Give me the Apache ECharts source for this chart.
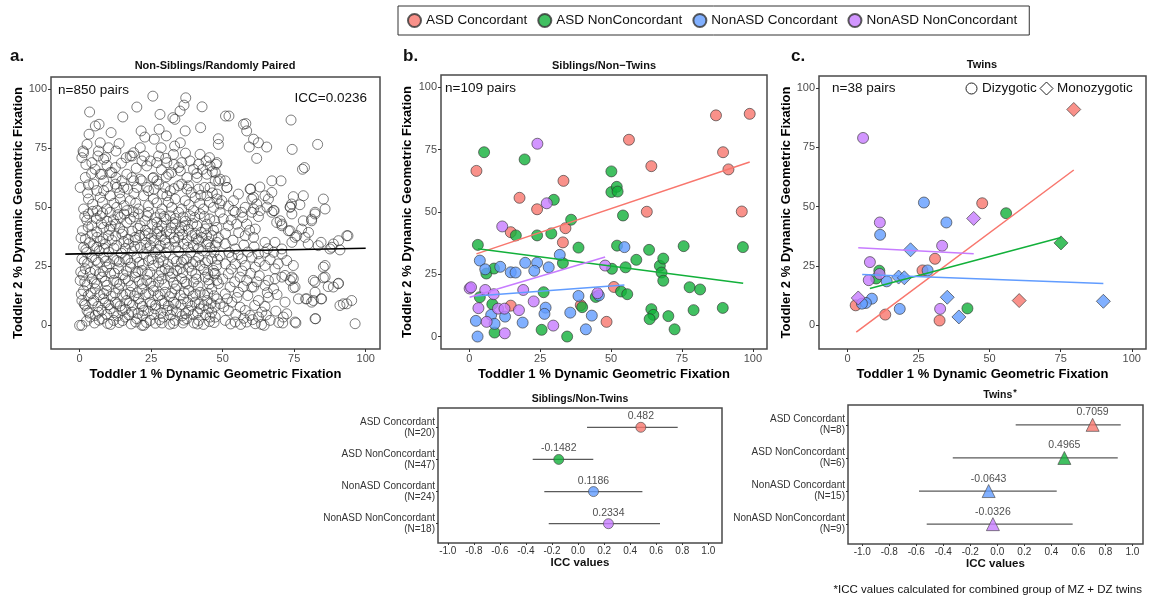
<!DOCTYPE html>
<html>
<head>
<meta charset="utf-8">
<script src="https://cdn.jsdelivr.net/npm/echarts@6/dist/echarts.min.js"></script>
<style>
html, body { margin: 0; padding: 0; background: #fff; }
#chart { width: 1155px; height: 597px; }
</style>
</head>
<body>
<div id="chart"></div>
<script>
var FONT = 'Liberation Sans, Arial, Helvetica, sans-serif';

// ---- shared ----
var groups = ['ASD Concordant', 'ASD NonConcordant', 'NonASD Concordant', 'NonASD NonConcordant'];
var groupColors = ['#F8766D', '#12B03A', '#619CFF', '#C77CFF'];
var pctTicks = [0, 25, 50, 75, 100];
var iccTicks = [-1, -0.8, -0.6, -0.4, -0.2, 0, 0.2, 0.4, 0.6, 0.8, 1];

// ---- a. non-siblings / randomly paired ----
var randPairs = [
  [25.6,96.9],[37.1,96.2],[36.5,93.1],[35.1,90.6],[33.3,87.1],[32.6,87.8],[20.0,92.3],[42.8,92.4],[3.5,90.2],[15.1,88.1],[51.0,88.5],[52.2,88.5],[73.9,86.8],[58.1,85.3],[57.3,85.0],[28.1,89.2],[5.5,84.3],[6.8,85.0],[3.3,80.8],[11.0,81.5],[21.5,82.2],[22.8,79.6],[26.1,78.7],[27.8,82.9],[30.3,80.1],[33.2,75.8],[35.2,77.2],[36.9,82.2],[42.3,83.6],[48.5,78.9],[48.5,76.5],[58.4,82.2],[60.8,78.7],[62.5,77.2],[65.4,75.4],[59.3,75.4],[61.9,70.6],[74.3,74.4],[83.2,76.5],[77.9,66.0],[78.6,66.7],[67.2,61.1],
  [0.8,70.9],[1.2,73.7],[2.6,76.5],[7.2,77.2],[6.6,73.7],[6.4,71.6],[9.1,70.9],[10.1,75.1],[12.7,73.7],[13.8,76.8],[16.3,70.9],[17.7,71.6],[18.9,73.0],[21.2,75.1],[22.6,71.6],[23.5,67.4],[24.7,69.5],[27.6,71.6],[30.1,70.6],[28.5,75.1],[32.8,72.3],[35.7,68.8],[42.1,72.3],[44.2,69.5],[45.4,70.9],[47.7,68.1],[39.8,66.0],[41.0,64.2],[46.4,65.0],[32.2,64.6],[30.3,62.8],[27.0,61.1],[25.6,62.2],[16.5,63.9],[12.7,62.5],[10.7,64.6],[7.2,63.9],[4.2,64.2],[8.4,61.1],[0.2,58.3],[3.1,59.4],[13.0,58.3],[16.8,57.6],[18.9,61.1],[21.2,61.8],[23.5,58.3],[29.9,58.3],[35.7,59.7],[37.5,57.6],[43.7,58.3],[51.5,58.3],[47.4,61.1],[49.1,61.8],[59.8,57.6],[60.8,54.1],[61.9,51.3],[60.8,49.2],[67.2,56.2],[70.4,61.1],[85.2,53.4],[85.8,49.2],[82.3,47.8],[81.1,44.2],[77.6,40.7],[80.0,39.3],[73.6,49.9],[74.7,54.4],[70.1,44.2],[70.7,42.1],[73.0,40.0],[64.8,54.8],[67.8,48.5],
  [1.4,73.0],[4.3,68.8],[8.4,70.2],[12.5,66.7],[18.3,71.6],[21.8,69.5],[27.0,68.8],[30.5,68.8],[34.6,66.7],[38.6,69.5],[41.6,68.1],[45.6,67.4],
  [2.0,62.5],[7.8,63.9],[11.3,64.6],[14.8,61.1],[18.3,62.5],[21.8,61.1],[25.8,62.5],[31.1,63.9],[35.2,65.3],[37.5,62.5],[41.0,62.5],[44.5,63.9],[47.4,64.6],
  [4.9,59.7],[8.4,56.9],[12.5,59.7],[15.4,58.3],[20.0,58.3],[24.1,56.9],[27.6,59.7],[31.7,56.9],[34.6,59.0],[38.1,59.0],[41.6,57.6],[45.6,58.3],
  [3.1,53.4],[7.2,54.1],[10.7,54.8],[14.2,53.4],[17.7,52.7],[22.4,54.8],[25.8,53.4],[30.5,54.8],[33.4,53.4],[36.9,52.7],[40.4,54.1],[44.5,54.8],[48.0,53.4],
  [1.4,49.2],[6.1,48.5],[9.5,49.2],[13.0,49.9],[16.5,48.5],[20.6,49.2],[24.1,50.6],[28.8,49.2],[32.2,49.9],[35.7,49.2],[39.8,48.5],[43.3,49.2],[46.8,49.9],
  [49.7,52.7],[49.1,51.3],[53.8,48.5],[56.7,47.8],[68.0,48.5],[74.1,51.3],[48.0,68.8],[48.6,61.1],[48.0,55.5],[50.9,61.1],[51.5,58.3],[66.0,53.4],[59.6,57.6],[60.2,53.4],[78.2,54.8],[77.0,51.0],[73.6,50.1],[53.8,52.7],[57.9,49.9],[55.5,55.5],[52.0,50.5],[63.0,58.5],[65.5,50.0],[62.5,46.0],
  [2.8,56.0],[6.0,57.0],[9.8,58.6],[14.0,56.0],[19.0,55.8],[26.0,57.6],[29.0,55.6],[33.0,57.8],[39.0,56.2],[42.4,55.0],[46.4,56.0],[4.6,51.2],[8.0,52.0],[12.0,51.6],[15.6,50.6],[19.6,51.6],[27.0,51.8],[31.0,52.0],[38.2,51.0],[42.0,51.6],[45.4,52.0],[5.4,66.0],[9.6,67.6],[14.6,68.6],[19.8,66.4],[28.6,65.8],[33.0,68.0],[37.0,72.8],[43.0,66.0],[2.2,68.0],
  [3.1,47.1],[7.2,46.3],[10.7,47.8],[14.2,45.6],[17.7,44.9],[20.6,47.1],[24.1,47.8],[28.2,47.1],[31.7,46.3],[34.6,47.8],[38.6,46.3],[42.1,47.1],
  [4.3,42.1],[8.4,41.4],[12.5,42.8],[16.5,43.5],[21.2,42.1],[25.3,42.8],[28.8,42.1],[33.4,42.8],[35.7,41.4],[41.0,42.1],[44.5,42.8],[48.0,41.4],
  [2.0,36.5],[6.1,37.2],[10.1,37.9],[14.8,38.6],[19.4,37.2],[22.9,37.9],[27.0,38.6],[31.7,38.6],[34.6,37.2],[39.2,37.9],[42.7,37.2],[46.2,37.9],
  [1.4,33.0],[4.9,33.7],[9.0,34.4],[13.0,33.7],[17.1,34.4],[21.2,33.0],[24.7,33.7],[28.2,33.7],[31.1,33.0],[36.3,34.4],[39.8,33.7],[44.5,34.4],[48.0,35.1],
  [0.8,28.1],[4.3,28.8],[8.4,28.8],[11.9,28.1],[15.9,28.1],[20.0,28.8],[24.1,27.4],[28.2,28.8],[32.8,28.1],[37.5,28.1],[41.6,28.8],[46.2,28.1],
  [2.0,23.9],[5.5,23.2],[9.5,24.6],[13.6,23.9],[17.7,24.6],[21.8,23.2],[25.8,25.3],[29.9,23.9],[34.0,23.2],[38.1,24.6],[42.1,25.3],[46.8,23.2],
  [0.2,19.0],[4.3,19.7],[7.8,20.4],[11.9,19.0],[15.9,19.7],[19.4,20.4],[23.5,19.0],[27.6,18.3],[31.7,20.4],[35.7,19.7],[39.8,18.3],[43.9,20.4],[48.0,19.0],
  [1.4,14.7],[5.5,15.4],[9.5,14.7],[13.6,15.4],[17.7,14.0],[21.8,15.4],[25.8,14.7],[29.9,14.0],[33.4,15.4],[38.1,14.7],[42.1,14.0],[46.2,15.4],
  [0.8,10.5],[4.9,10.5],[8.4,11.2],[12.5,9.8],[16.5,10.5],[20.6,11.2],[24.7,9.8],[28.8,10.5],[32.8,9.8],[36.3,11.2],[40.4,9.8],[44.5,10.5],[48.0,11.2],
  [2.6,6.3],[6.6,5.6],[10.7,7.0],[14.8,6.3],[18.3,5.6],[22.4,6.3],[26.4,7.0],[30.5,6.3],[34.0,5.6],[38.1,6.3],[42.1,7.0],[46.2,5.6],
  [3.7,3.5],[7.8,2.8],[11.9,2.1],[15.9,3.5],[20.0,2.8],[24.7,2.1],[29.3,3.5],[33.4,2.1],[37.5,2.8],[41.6,2.1],[45.6,3.5],
  [0.8,0.0],[21.8,0.0],[0.0,0.0],[22.4,0.0],[28.8,1.0],[36.1,1.0],[43.3,0.4],[56.3,0.4],[64.5,0.0],[71.0,1.0],
  [2.5,44.5],[5.8,45.2],[9.6,44.0],[13.4,46.8],[19.0,45.8],[22.8,44.2],[26.5,45.5],[30.2,44.8],[33.5,45.2],[37.0,44.0],[40.3,45.6],[45.5,45.0],
  [1.0,40.0],[6.0,39.5],[10.5,40.6],[14.0,41.0],[18.3,39.8],[23.0,40.2],[27.2,40.9],[30.4,39.6],[35.0,39.9],[38.0,40.6],[42.5,39.3],[46.8,40.2],
  [3.5,35.0],[7.2,35.6],[11.3,36.0],[15.5,35.3],[19.5,36.1],[23.2,35.0],[26.0,35.8],[29.8,36.2],[33.2,35.5],[37.6,35.9],[41.5,36.0],[45.0,35.4],
  [2.5,30.8],[6.8,31.5],[10.2,31.0],[14.6,30.5],[18.4,31.4],[22.4,30.2],[26.3,31.0],[30.1,30.6],[34.6,31.2],[38.8,30.8],[43.0,31.5],[47.0,30.9],
  [2.8,26.2],[6.5,26.6],[10.4,26.0],[13.9,26.8],[17.9,26.3],[22.0,25.8],[27.6,26.4],[30.9,25.9],[35.6,26.7],[39.5,26.0],[44.0,26.5],
  [1.2,21.3],[6.9,21.8],[10.8,22.0],[15.2,21.4],[19.6,22.2],[23.8,21.6],[27.7,21.0],[32.5,21.9],[36.1,22.3],[40.6,21.5],[44.8,21.8],
  [2.6,17.1],[6.0,17.5],[9.6,16.9],[14.0,17.3],[18.0,16.8],[21.9,17.6],[25.7,16.5],[29.7,17.2],[33.9,16.9],[37.4,17.5],[41.4,16.6],[45.3,17.4],
  [3.0,12.6],[7.0,12.9],[11.0,12.3],[15.0,12.8],[19.1,12.4],[23.0,13.0],[27.4,12.5],[31.4,12.1],[35.2,12.7],[39.6,12.4],[43.6,12.9],[47.0,12.5],
  [2.0,8.4],[6.4,8.0],[10.2,8.7],[14.2,8.2],[18.5,8.6],[22.0,8.0],[26.6,8.5],[31.0,8.3],[35.4,8.8],[39.2,8.1],[43.4,8.4],[47.4,8.0],
  [5.5,4.2],[9.5,4.6],[13.3,4.0],[17.2,4.4],[22.0,4.1],[26.0,4.5],[31.8,4.3],[35.8,4.0],[39.7,4.6],[44.0,4.4],
  [5.2,1.0],[9.8,0.8],[13.8,1.2],[18.0,0.6],[26.5,0.9],[31.5,0.5],[40.0,1.0],[47.0,1.2],
  [1.8,46.0],[4.6,48.2],[8.0,47.5],[11.8,44.6],[15.6,47.0],[18.8,48.0],[23.6,46.2],[27.0,43.6],[29.5,46.0],[32.6,43.4],[36.2,45.8],[39.5,43.0],[43.6,46.0],[47.2,44.2],
  [3.0,41.6],[7.6,43.0],[11.0,42.0],[15.2,39.6],[20.4,41.0],[24.0,38.8],[28.0,39.8],[32.0,41.2],[36.8,42.2],[40.4,38.8],[44.0,40.8],
  [0.5,37.0],[4.4,38.5],[8.2,36.6],[12.6,37.8],[17.0,36.4],[21.0,38.0],[25.0,36.8],[28.6,37.6],[33.0,37.0],[36.0,38.4],[40.8,36.6],[44.4,38.0],[48.5,37.0],
  [2.2,32.0],[6.0,33.0],[8.6,32.4],[12.0,32.6],[16.0,32.5],[19.2,33.4],[23.5,32.4],[27.4,32.0],[30.0,34.8],[33.6,32.8],[37.8,33.0],[41.5,32.4],[45.6,32.8],
  [1.6,27.0],[5.6,27.6],[9.2,27.2],[13.0,27.4],[16.8,27.8],[20.8,26.6],[25.4,28.0],[29.2,27.2],[33.8,27.0],[36.4,27.6],[40.4,27.0],[44.8,27.4],[48.2,27.9],
  [0.4,22.6],[3.8,22.4],[8.2,22.8],[12.2,22.0],[16.4,23.0],[20.4,22.8],[24.6,22.4],[28.6,22.8],[31.2,23.0],[35.2,24.0],[39.2,23.0],[43.4,23.6],[47.0,22.0],
  [1.8,18.4],[5.2,18.0],[9.0,18.6],[13.0,18.2],[17.0,18.8],[20.8,18.6],[24.8,17.8],[28.8,19.6],[32.8,18.2],[36.8,18.4],[40.8,19.6],[45.0,19.2],
  [0.6,13.2],[4.0,13.6],[8.4,13.4],[12.4,13.6],[16.2,13.2],[20.2,13.8],[24.2,13.4],[28.2,13.0],[32.2,13.6],[36.6,13.8],[40.6,13.2],[44.8,13.6],
  [1.6,9.0],[4.4,9.4],[9.0,9.6],[13.0,9.0],[17.4,9.4],[21.2,9.2],[25.2,8.8],[29.6,9.2],[33.6,9.0],[37.8,9.6],[41.8,9.0],[46.0,9.2],
  [3.2,5.2],[7.8,6.4],[12.0,5.4],[16.0,6.8],[20.4,5.0],[24.0,6.0],[28.4,5.2],[32.4,6.6],[37.0,5.0],[41.2,5.4],[45.0,7.0],
  [2.4,1.8],[6.8,2.2],[10.8,0.4],[15.0,2.0],[19.6,1.4],[23.4,1.2],[28.0,2.4],[32.8,0.8],[36.4,2.2],[41.2,0.6],[45.4,1.6],
  [49.1,47.8],[54.4,47.8],[60.2,47.8],[63.1,48.5],[67.2,47.8],[74.2,47.1],[68.9,43.5],[70.7,42.8],[73.6,40.0],[75.9,37.9],[78.2,44.2],[81.1,44.9],[82.3,47.1],
  [52.0,42.1],[54.9,42.8],[58.4,42.8],[61.4,40.7],[57.9,37.9],[60.8,37.2],[64.8,35.1],[68.3,35.1],[70.7,32.3],[74.2,35.1],[75.3,37.2],[78.8,37.2],[79.9,34.4],[83.4,33.7],[88.7,34.4],[87.5,32.3],[91.0,31.9],[93.4,37.9],[93.8,37.9],
  [47.4,33.7],[50.9,34.4],[54.4,32.3],[49.1,29.5],[53.2,28.8],[56.7,28.1],[60.2,28.8],[62.5,30.2],[64.8,30.9],[67.8,30.9],[70.7,30.2],[72.4,27.4],[74.7,25.3],[64.8,25.3],[68.3,23.9],[61.4,24.6],[57.9,25.3],[54.4,26.0],[50.9,26.0],[47.9,25.3],
  [47.4,21.8],[52.0,21.8],[56.1,20.4],[58.4,19.0],[60.8,16.2],[64.8,16.9],[66.0,19.0],[68.3,19.7],[70.7,20.4],[74.2,20.4],[75.3,16.2],[74.7,19.7],[85.8,25.3],[85.8,20.4],[82.3,18.3],[90.4,17.6],
  [48.5,17.6],[52.6,16.2],[50.9,13.3],[55.5,14.0],[60.2,16.2],[62.5,10.5],[66.0,11.9],[67.8,15.4],[71.8,9.8],[76.5,11.2],[79.4,11.2],[82.3,14.0],[84.6,11.2],[86.9,16.4],[81.1,9.8],
  [49.1,9.1],[53.2,9.8],[56.1,7.7],[52.0,6.3],[57.9,6.3],[59.6,4.2],[62.5,3.5],[63.7,5.6],[66.6,2.1],[71.2,3.5],[72.4,4.9],[75.3,1.4],[82.3,2.8],[91.0,8.4],[92.2,9.1],[95.1,10.5],[96.3,0.7],
  [47.4,3.5],[50.9,2.1],[54.4,1.4],[58.4,1.4],[61.4,0.7],
  [50.2,45.0],[53.0,44.6],[57.0,45.6],[59.4,40.2],[55.6,39.2],[51.0,38.8],[53.6,36.0],[57.4,34.0],[61.0,33.2],[65.8,32.4],[58.8,31.0],[52.2,30.8],[55.4,29.8],[62.8,27.0],[66.6,27.8],[69.4,26.0],[53.0,23.8],[56.8,23.0],[59.8,22.0],[62.8,21.0],[50.0,19.6],[54.2,18.4],[57.2,16.4],[62.0,18.4],[65.6,13.8],[69.0,13.0],[51.6,11.2],[55.0,11.8],[58.8,12.6],[61.2,8.4],[64.8,8.0],[68.6,6.0],[50.4,7.8],[54.6,4.6],[57.4,3.0],[60.4,2.4],[65.2,4.4],[69.6,1.2],[52.8,0.6],[63.6,0.4],
  [90.5,35.8],[88.1,33.0],[84.4,35.1],[85.2,24.6],[85.2,20.1],[88.7,16.2],[90.5,17.8],[81.7,19.0],[81.7,10.5],[84.4,11.2],[82.5,2.8],[79.0,11.2],[75.6,1.0],[74.7,15.9],[73.6,19.0],[71.8,21.1],[93.4,9.1]
];
var randFit = [[-5, 30.1], [100, 32.6]];

// ---- b. siblings / non-twins ----
var sibAsdConc = [[87.0,88.8],[98.9,89.4],[56.3,79.0],[89.5,74.0],[91.4,67.1],[64.2,68.4],[2.5,66.5],[33.2,62.5],[17.7,55.7],[23.9,51.1],[62.6,50.1],[96.1,50.2],[14.6,41.9],[33.9,43.5],[33.0,37.8],[51.0,19.9],[14.6,12.4],[39.3,12.6],[48.4,5.9]];
var sibAsdNon = [[5.2,74.0],[19.5,71.1],[50.1,66.3],[50.1,58.0],[52.0,60.1],[52.3,58.2],[29.8,54.9],[54.2,48.6],[35.9,46.9],[16.4,40.6],[23.9,40.6],[28.9,41.4],[3.0,36.8],[38.5,35.7],[52.1,36.5],[75.6,36.3],[96.5,35.9],[63.4,34.8],[33.0,29.5],[58.9,30.8],[50.3,27.2],[55.1,27.8],[67.2,28.4],[68.4,31.3],[67.8,25.7],[68.4,22.4],[77.7,19.8],[81.4,18.9],[53.5,18.1],[55.7,17.0],[44.6,15.9],[3.7,15.8],[6.0,25.3],[8.7,27.3],[8.1,13.0],[39.8,11.8],[64.2,11.0],[64.9,8.7],[63.6,7.0],[70.2,8.2],[72.4,2.9],[89.4,11.5],[79.1,10.6],[25.5,2.7],[34.5,0.0],[8.9,1.6],[26.2,17.8]];
var sibNonConc = [[54.7,35.9],[31.9,32.8],[3.7,30.5],[5.6,27.0],[10.9,28.0],[14.6,25.8],[16.3,25.7],[19.7,29.6],[23.9,29.6],[22.9,26.4],[28.0,27.8],[38.5,16.3],[45.7,16.5],[26.9,11.6],[26.5,9.1],[7.7,8.7],[12.6,8.0],[35.6,9.6],[43.2,8.4],[2.3,6.3],[8.9,5.1],[18.8,5.6],[41.1,2.9],[2.9,0.0]];
var sibNonNon = [[24.0,77.4],[27.3,53.5],[11.6,44.2],[47.9,28.5],[0.1,19.3],[0.6,19.8],[5.6,18.7],[8.6,17.0],[19.0,18.7],[45.2,17.4],[3.2,11.4],[10.1,11.2],[12.4,11.2],[17.5,10.6],[22.7,14.1],[6.1,5.9],[12.5,1.3],[29.6,4.4]];
var sibFits = [
  [[2.5,33.2],[98.9,70.1]],
  [[3.0,35.2],[96.6,21.4]],
  [[2.3,16.3],[54.7,20.7]],
  [[0.1,15.8],[47.9,31.9]]
];

// ---- c. twins (DZ = circle, MZ = diamond) ----
var twinAsdConcDZ = [[47.4,51.4],[30.8,28.0],[26.4,23.1],[2.9,8.4],[13.3,4.5],[32.4,2.0]];
var twinAsdConcMZ = [[79.6,90.9],[60.4,10.4]];
var twinAsdNonDZ = [[55.8,47.2],[11.2,23.0],[10.1,19.7],[42.2,7.1]];
var twinAsdNonMZ = [[75.1,34.7]];
var twinNonConcDZ = [[26.9,51.7],[34.8,43.3],[11.5,38.1],[28.2,23.1],[13.8,18.5],[8.6,11.2],[6.5,9.4],[5.1,9.1],[18.4,6.9]];
var twinNonConcMZ = [[22.2,31.8],[18.0,20.3],[20.0,20.0],[35.1,11.8],[39.2,3.5],[90.0,10.1]];
var twinNonNonDZ = [[5.5,78.9],[11.4,43.3],[33.3,33.5],[7.9,26.6],[11.3,21.6],[7.5,19.0],[32.6,6.9]];
var twinNonNonMZ = [[44.4,45.0],[3.8,11.5]];
var twinFits = [
  [[3.1,-2.9],[79.6,65.4]],
  [[7.9,15.5],[75.1,37.0]],
  [[5.2,21.4],[90.0,17.6]],
  [[3.8,32.6],[44.4,30.1]]
];

// ---- ICC forest plots ----
var sibLabels = ['ASD Concordant\n(N=20)', 'ASD NonConcordant\n(N=47)', 'NonASD Concordant\n(N=24)', 'NonASD NonConcordant\n(N=18)'];
var sibIcc = [0.482, -0.1482, 0.1186, 0.2334];
var sibLow = [0.069, -0.348, -0.259, -0.225];
var sibHigh = [0.765, 0.117, 0.494, 0.629];

var twinLabels = ['ASD Concordant\n(N=8)', 'ASD NonConcordant\n(N=6)', 'NonASD Concordant\n(N=15)', 'NonASD NonConcordant\n(N=9)'];
var twinIcc = [0.7059, 0.4965, -0.0643, -0.0326];
var twinLow = [0.136, -0.330, -0.580, -0.523];
var twinHigh = [0.914, 0.892, 0.440, 0.558];

var myChart = echarts.init(document.getElementById('chart'));

function pctX(gi) {
  return {
    gridIndex: gi, type: 'value', min: -10, max: 105,
    axisLine: { show: false, onZero: false },
    splitLine: { show: false },
    axisTick: { show: true, length: 3, lineStyle: { color: '#333' }, customValues: pctTicks },
    axisLabel: { color: '#4d4d4d', fontSize: 11, margin: 4, fontFamily: FONT, customValues: pctTicks },
    name: 'Toddler 1 % Dynamic Geometric Fixation', nameLocation: 'middle', nameGap: 19,
    nameTextStyle: { fontWeight: 'bold', fontSize: 13, color: '#000', fontFamily: FONT }
  };
}
function pctY(gi, min, gap) {
  return {
    gridIndex: gi, type: 'value', min: min, max: 105,
    axisLine: { show: false, onZero: false },
    splitLine: { show: false },
    axisTick: { show: true, length: 3, lineStyle: { color: '#333' }, customValues: pctTicks },
    axisLabel: { color: '#4d4d4d', fontSize: 11, margin: 4, fontFamily: FONT, customValues: pctTicks },
    name: 'Toddler 2 % Dynamic Geometric Fixation', nameLocation: 'middle', nameGap: gap,
    nameTextStyle: { fontWeight: 'bold', fontSize: 13, color: '#000', fontFamily: FONT }
  };
}
function iccX(gi, min, max) {
  return {
    gridIndex: gi, type: 'value', min: min, max: max,
    axisLine: { show: false, onZero: false },
    splitLine: { show: false },
    axisTick: { show: true, length: 2, lineStyle: { color: '#333' }, customValues: iccTicks },
    axisLabel: {
      color: '#333', fontSize: 10, margin: 3, fontFamily: FONT, customValues: iccTicks,
      formatter: function (v) { return v.toFixed(1); }
    },
    name: 'ICC values', nameLocation: 'middle', nameGap: 13,
    nameTextStyle: { fontWeight: 'bold', fontSize: 11.5, color: '#111', fontFamily: FONT }
  };
}
function iccY(gi, labels) {
  return {
    gridIndex: gi, type: 'value', min: 0.4, max: 4.6, inverse: true,
    axisLine: { show: false, onZero: false },
    splitLine: { show: false },
    axisTick: { show: true, length: 2, lineStyle: { color: '#333' }, customValues: [1, 2, 3, 4] },
    axisLabel: {
      color: '#333', fontSize: 10, lineHeight: 11, margin: 3, fontFamily: FONT, align: 'right',
      customValues: [1, 2, 3, 4],
      formatter: function (v) { return labels[Math.round(v) - 1]; }
    }
  };
}

function pts(gi, name, data, color, symbol, size, hollow) {
  return {
    type: 'scatter', name: name, xAxisIndex: gi, yAxisIndex: gi, data: data,
    symbol: symbol, symbolSize: size, silent: true, z: 3,
    itemStyle: hollow
      ? { color: 'rgba(255,255,255,0)', borderColor: '#333', borderWidth: 0.8 }
      : { color: color, borderColor: '#333', borderWidth: 0.8 }
  };
}
function fit(gi, data, color, width) {
  return {
    type: 'line', xAxisIndex: gi, yAxisIndex: gi, data: data, symbol: 'none', silent: true, z: 4,
    lineStyle: { color: color, width: width }
  };
}
function ciBars(gi, low, high) {
  return {
    type: 'custom', xAxisIndex: gi, yAxisIndex: gi, silent: true, z: 2,
    data: low.map(function (l, i) { return [l, high[i], i + 1]; }),
    encode: { x: [0, 1], y: 2 },
    renderItem: function (params, api) {
      var a = api.coord([api.value(0), api.value(2)]);
      var b = api.coord([api.value(1), api.value(2)]);
      return {
        type: 'line',
        shape: { x1: a[0], y1: a[1], x2: b[0], y2: b[1] },
        style: { stroke: '#5a5a5a', lineWidth: 1.2 }
      };
    }
  };
}
function iccPoints(gi, icc, symbol, size) {
  return {
    type: 'scatter', xAxisIndex: gi, yAxisIndex: gi, symbol: symbol, symbolSize: size, silent: true, z: 3,
    data: icc.map(function (v, i) {
      return { value: [v, i + 1], itemStyle: { color: groupColors[i], borderColor: '#444', borderWidth: 0.8 } };
    }),
    label: {
      show: true, position: 'top', distance: 0, color: '#222', fontSize: 10.5, fontFamily: FONT,
      formatter: function (p) { return String(p.value[0]); }
    }
  };
}

function txt(x, y, text, size, bold, align, color) {
  return {
    type: 'text', x: x, y: y, silent: true,
    style: {
      text: text, fill: color || '#111', textAlign: align || 'left', textVerticalAlign: 'middle',
      font: (bold ? 'bold ' : '') + size + 'px ' + FONT
    }
  };
}

var gridBox = { show: true, borderColor: '#4a4a4a', borderWidth: 1.5, backgroundColor: 'rgba(0,0,0,0)' };
function grid(l, t, w, h) {
  return Object.assign({ left: l, top: t, width: w, height: h }, gridBox);
}

var series = [
  pts(0, 'random', randPairs, '#000', 'circle', 10, true),
  fit(0, randFit, '#000', 1.6),

  pts(1, groups[0], sibAsdConc, groupColors[0], 'circle', 11),
  pts(1, groups[1], sibAsdNon, groupColors[1], 'circle', 11),
  pts(1, groups[2], sibNonConc, groupColors[2], 'circle', 11),
  pts(1, groups[3], sibNonNon, groupColors[3], 'circle', 11),

  pts(2, groups[0], twinAsdConcDZ, groupColors[0], 'circle', 11),
  pts(2, groups[0], twinAsdConcMZ, groupColors[0], 'diamond', 14),
  pts(2, groups[1], twinAsdNonDZ, groupColors[1], 'circle', 11),
  pts(2, groups[1], twinAsdNonMZ, groupColors[1], 'diamond', 14),
  pts(2, groups[2], twinNonConcDZ, groupColors[2], 'circle', 11),
  pts(2, groups[2], twinNonConcMZ, groupColors[2], 'diamond', 14),
  pts(2, groups[3], twinNonNonDZ, groupColors[3], 'circle', 11),
  pts(2, groups[3], twinNonNonMZ, groupColors[3], 'diamond', 14),

  ciBars(3, sibLow, sibHigh),
  iccPoints(3, sibIcc, 'circle', 10),
  ciBars(4, twinLow, twinHigh),
  iccPoints(4, twinIcc, 'triangle', 13)
];
sibFits.forEach(function (d, i) { series.push(fit(1, d, groupColors[i], 1.5)); });
twinFits.forEach(function (d, i) { series.push(fit(2, d, groupColors[i], 1.5)); });

var option = {
  animation: false,
  backgroundColor: '#fff',
  textStyle: { fontFamily: FONT },
  legend: {
    data: groups, left: 398, top: 6, icon: 'circle', itemWidth: 13, itemHeight: 13, itemGap: 10,
    padding: [7, 12, 7, 9], borderColor: '#333', borderWidth: 1, selectedMode: false,
    textStyle: { fontSize: 13.5, color: '#111', fontFamily: FONT }
  },
  grid: [
    grid(51, 77, 329, 272),
    grid(441, 75, 326, 274),
    grid(819, 76, 327, 273),
    grid(438, 408, 284, 135),
    grid(848, 405, 295, 139)
  ],
  xAxis: [
    pctX(0), pctX(1), pctX(2),
    iccX(3, -1.075, 1.105),
    iccX(4, -1.106, 1.079)
  ],
  yAxis: [
    pctY(0, -10, 22), pctY(1, -5, 27), pctY(2, -10, 26),
    iccY(3, sibLabels),
    iccY(4, twinLabels)
  ],
  series: series,
  graphic: [
    txt(10, 56, 'a.', 17, true),
    txt(403, 56, 'b.', 17, true),
    txt(791, 56, 'c.', 17, true),
    txt(215, 66, 'Non-Siblings/Randomly Paired', 11, true, 'center'),
    txt(604, 66, 'Siblings/Non\u2212Twins', 11, true, 'center'),
    txt(982, 65, 'Twins', 11, true, 'center'),
    txt(58, 90, 'n=850 pairs', 13.5),
    txt(367, 98, 'ICC=0.0236', 13.5, false, 'right'),
    txt(445, 88, 'n=109 pairs', 13.5),
    txt(832, 88, 'n=38 pairs', 13.5),
    { type: 'circle', silent: true, shape: { cx: 971.5, cy: 88.5, r: 5.5 }, style: { fill: '#fff', stroke: '#222', lineWidth: 1 } },
    txt(982, 88, 'Dizygotic', 13.5),
    { type: 'polygon', silent: true, shape: { points: [[1046.5, 82], [1053, 88.5], [1046.5, 95], [1040, 88.5]] }, style: { fill: '#fff', stroke: '#222', lineWidth: 1 } },
    txt(1057, 88, 'Monozygotic', 13.5),
    txt(580, 399, 'Siblings/Non-Twins', 10.5, true, 'center'),
    {
      type: 'text', x: 1000, y: 395, silent: true,
      style: {
        text: '{a|Twins}{b|*}', textAlign: 'center', textVerticalAlign: 'middle',
        rich: {
          a: { fontSize: 10.5, fontWeight: 'bold', fontFamily: FONT, fill: '#111' },
          b: { fontSize: 9, fontWeight: 'bold', fontFamily: FONT, fill: '#111', padding: [0, 0, 5, 1] }
        }
      }
    },
    txt(1142, 590, '*ICC values calculated for combined group of MZ + DZ twins', 11.5, false, 'right')
  ]
};
myChart.setOption(option);
</script>
</body>
</html>
